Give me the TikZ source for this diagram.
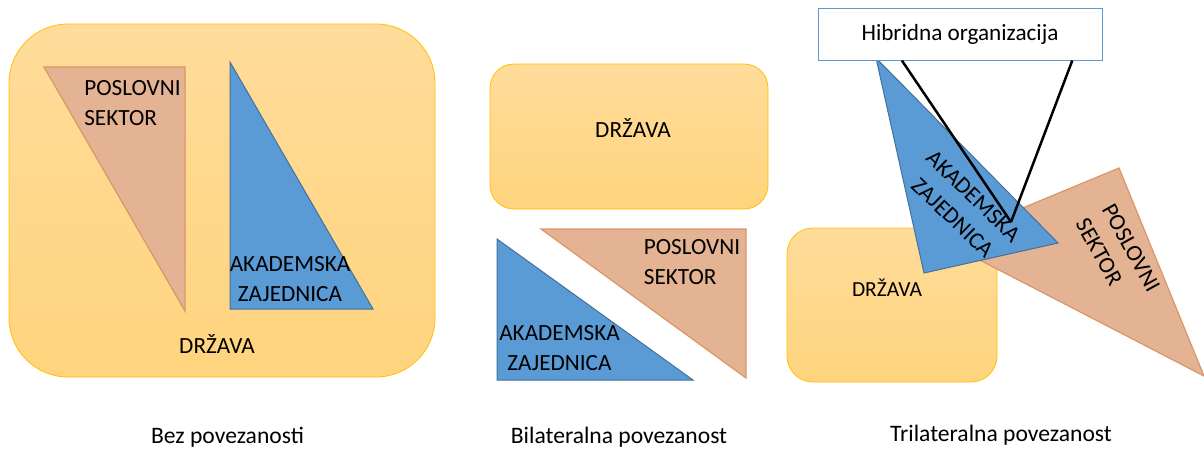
\documentclass[tikz,border=0pt]{standalone}
\usepackage{fontspec}
\setmainfont{Carlito}
\usetikzlibrary{calc}
\definecolor{ylwtop}{HTML}{FFDC9A}
\definecolor{ylwbot}{HTML}{FFD47E}
\definecolor{ylwedge}{HTML}{FFC000}
\definecolor{brnfill}{HTML}{E3B394}
\definecolor{brnedge}{HTML}{DA9668}
\definecolor{blufill}{HTML}{5B9BD5}
\definecolor{bluedge}{HTML}{41719C}
\begin{document}
\begin{tikzpicture}[x=1pt,y=-1pt,
  statebox/.style={draw=ylwedge, line width=0.8pt, top color=ylwtop, bottom color=ylwbot},
  psec/.style={fill=brnfill, draw=brnedge, line width=1.2pt, line join=miter},
  akad/.style={fill=blufill, draw=bluedge, line width=1pt, line join=miter},
  lbl/.style={inner sep=0pt, text=black, font=\fontsize{23.2}{30}\selectfont},
  capt/.style={inner sep=0pt, text=black, font=\fontsize{23.6}{28}\selectfont},
  hibbox/.style={draw=blufill, fill=white, line width=1pt, minimum width=284pt, minimum height=52pt, inner sep=0pt, font=\fontsize{23.2}{28}\selectfont},
  conn/.style={draw=black, line width=2.5pt}
]
\useasboundingbox (0,0) rectangle (1204,448);

% ---- left panel: Bez povezanosti
\path[statebox, rounded corners=59pt] (9,24) rectangle (435,377);
\path[psec] (44,67) -- (185,67) -- (185,311) -- cycle;
\path[akad] (230,62) -- (230,309) -- (373,309) -- cycle;
\node[lbl, align=left] (ps1) at (132.5,103.5) {POSLOVNI\\SEKTOR};
\node[lbl, align=center] (ak1) at (290,279.5) {AKADEMSKA\\ZAJEDNICA};
\node[lbl, anchor=base] (dr1) at (217,353) {DRŽAVA};

% ---- middle panel: Bilateralna povezanost
\path[statebox, rounded corners=24pt] (490,64) rectangle (768,209);
\node[lbl, anchor=base] (dr2) at (633,137) {DRŽAVA};
\path[psec] (541,229) -- (746,229) -- (746,378) -- cycle;
\path[akad] (497,239) -- (497,380) -- (693,380) -- cycle;
\node[lbl, align=left] (ps2) at (692,262.5) {POSLOVNI\\SEKTOR};
\node[lbl, align=center] (ak2) at (559.5,347.7) {AKADEMSKA\\ZAJEDNICA};

% ---- right panel: Trilateralna povezanost
\path[statebox, rounded corners=26pt] (787,228) rectangle (997,382);
\node[lbl, anchor=base, font=\fontsize{21.5}{26}\selectfont] (dr3) at (887,296) {DRŽAVA};
\path[psec] (943,241) -- (1119,168) -- (1204,376) -- cycle;
\path[akad] (876,58) -- (1058,243) -- (924,273) -- cycle;
\node[lbl, align=center, rotate=-44] (ak3) at (963,207) {AKADEMSKA\\ZAJEDNICA};
\node[lbl, align=left, rotate=-61] (ps3) at (1118,255) {POSLOVNI\\SEKTOR};
\node[hibbox] (hib) at (960,34) {Hibridna organizacija};
\coordinate (meet) at (1011,222);
\draw[conn] ($(hib.south west)!0.296!(hib.south east)$) -- (meet);
\draw[conn] ($(hib.south west)!0.894!(hib.south east)$) -- (meet);

% ---- captions
\node[capt, anchor=base] (c1) at (227.5,443) {Bez povezanosti};
\node[capt, anchor=base] (c2) at (619,443) {Bilateralna povezanost};
\node[capt, anchor=base] (c3) at (1001,441) {Trilateralna povezanost};
\end{tikzpicture}
\end{document}
